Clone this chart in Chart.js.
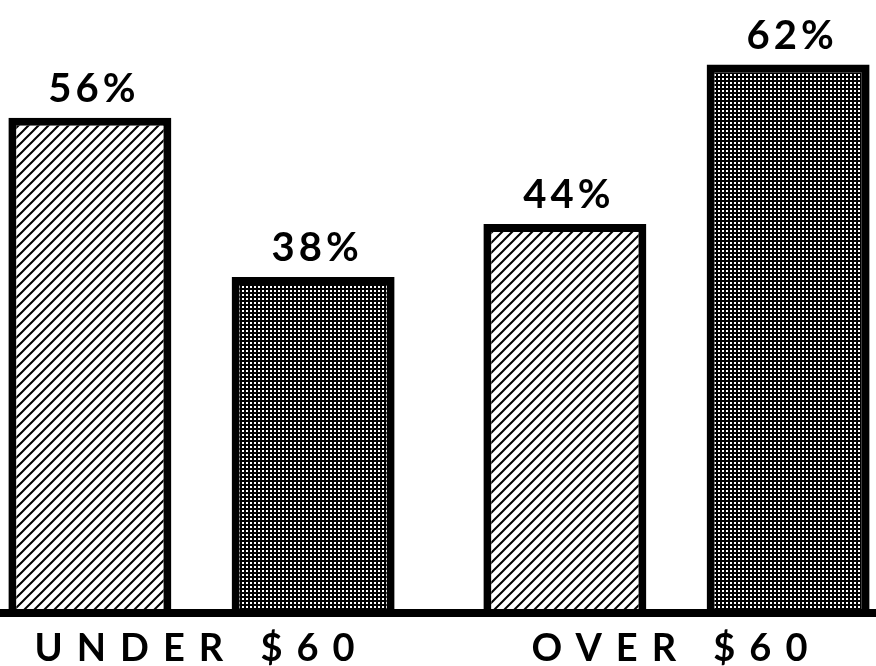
<!DOCTYPE html>
<html>
<head>
<meta charset="utf-8">
<script src="https://cdn.jsdelivr.net/npm/chart.js@4.4.0/dist/chart.umd.min.js"></script>
<style>
html, body { margin: 0; padding: 0; background: #fff; overflow: hidden; width: 876px; height: 666px; }
#wrap { position: absolute; left: -36px; top: 0; width: 950px; height: 666px; }
</style>
</head>
<body>
<div id="wrap"><canvas id="bars" width="950" height="666"></canvas></div>
<script>
const groups = ["UNDER $60", "OVER $60"];
const hatchedValues = [56, 44];
const gridValues = [38, 62];

const canvas = document.getElementById('bars');
const mainCtx = canvas.getContext('2d');

// diagonal hatch tile
function makeHatch() {
    const c = document.createElement('canvas');
    c.width = 10; c.height = 10;
    const g = c.getContext('2d');
    g.fillStyle = '#fff';
    g.fillRect(0, 0, 10, 10);
    g.strokeStyle = '#000';
    g.lineWidth = 2;
    g.beginPath();
    g.moveTo(-5, 15); g.lineTo(15, -5);
    g.moveTo(-5, 5); g.lineTo(5, -5);
    g.moveTo(5, 15); g.lineTo(15, 5);
    g.stroke();
    return mainCtx.createPattern(c, 'repeat');
}

// fine cross-hatch tile
function makeGrid() {
    const c = document.createElement('canvas');
    c.width = 4; c.height = 4;
    const g = c.getContext('2d');
    g.fillStyle = '#fff';
    g.fillRect(0, 0, 4, 4);
    g.fillStyle = '#000';
    g.fillRect(0, 0, 4, 2);
    g.fillRect(0, 0, 2, 4);
    return mainCtx.createPattern(c, 'repeat');
}

const spacedTicks = {
    id: 'spacedTicks',
    beforeDraw(chart) { chart.ctx.letterSpacing = '14px'; },
    beforeDatasetsDraw(chart) { chart.ctx.letterSpacing = '0px'; }
};

const valueLabels = {
    id: 'valueLabels',
    afterDatasetsDraw(chart) {
        const ctx = chart.ctx;
        ctx.save();
        ctx.font = 'bold 40px Lato';
        ctx.letterSpacing = '4px';
        ctx.fillStyle = '#000';
        ctx.textAlign = 'center';
        ctx.textBaseline = 'alphabetic';
        chart.data.datasets.forEach((ds, i) => {
            chart.getDatasetMeta(i).data.forEach((bar, j) => {
                ctx.fillText(ds.data[j] + '%', bar.x + 4, bar.y - 16);
            });
        });
        ctx.restore();
    }
};

new Chart(canvas, {
    type: 'bar',
    data: {
        labels: groups,
        datasets: [{
            label: 'hatched',
            data: hatchedValues,
            backgroundColor: makeHatch(),
            borderColor: '#000',
            borderWidth: 8,
            borderSkipped: 'bottom',
            categoryPercentage: 0.94,
            barPercentage: 0.73
        }, {
            label: 'grid',
            data: gridValues,
            backgroundColor: makeGrid(),
            borderColor: '#000',
            borderWidth: 8,
            borderSkipped: 'bottom',
            categoryPercentage: 0.94,
            barPercentage: 0.73
        }]
    },
    options: {
        responsive: false,
        devicePixelRatio: 1,
        animation: false,
        layout: { padding: { top: 0, bottom: -11, left: 0, right: 0 } },
        plugins: { legend: { display: false }, tooltip: { enabled: false } },
        scales: {
            x: {
                grid: { display: false },
                border: { display: true, width: 8, color: '#000', z: 1 },
                ticks: {
                    color: '#000',
                    font: { family: 'Lato', size: 38, weight: 'bold' },
                    padding: 5,
                    maxRotation: 0,
                    autoSkip: false
                }
            },
            y: {
                display: false,
                min: 0,
                max: 69.3
            }
        }
    },
    plugins: [spacedTicks, valueLabels]
});
</script>
</body>
</html>
